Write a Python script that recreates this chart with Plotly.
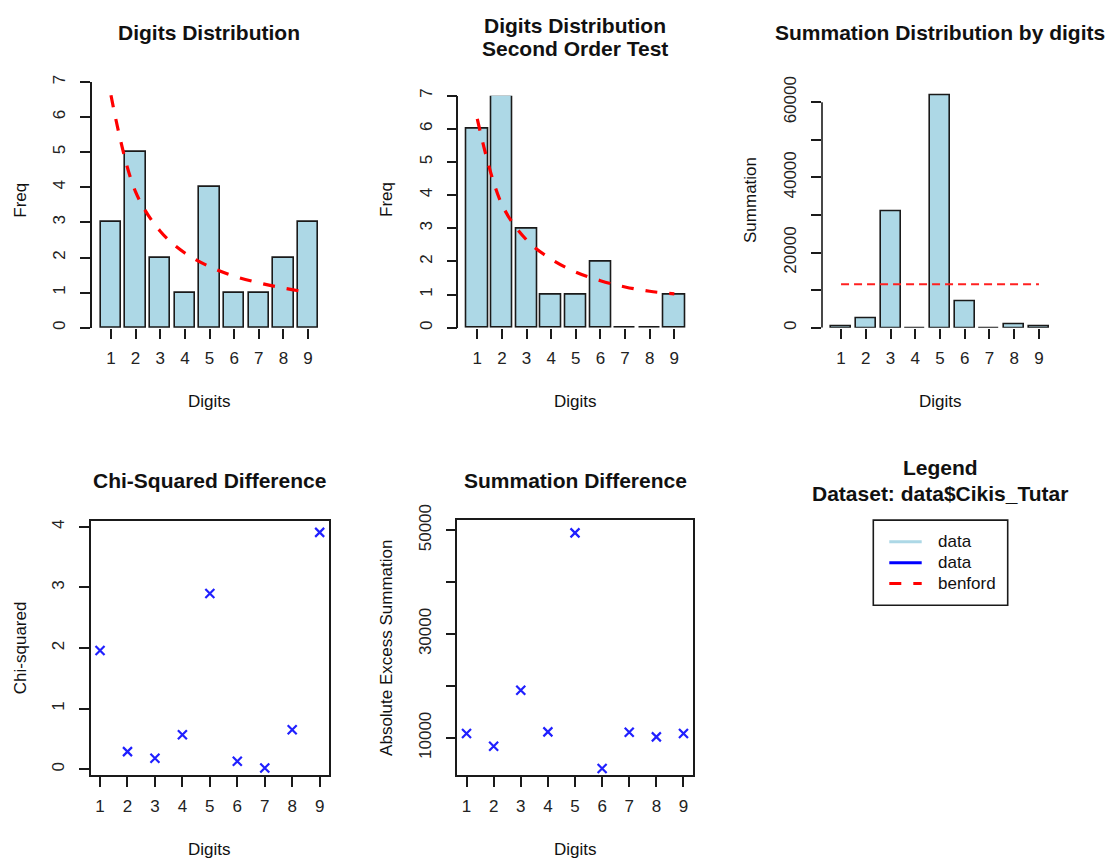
import plotly.graph_objects as go

# ---------------- data ----------------
digits = [1, 2, 3, 4, 5, 6, 7, 8, 9]
freq_first = [3, 5, 2, 1, 4, 1, 1, 2, 3]
benford_first = [6.62, 3.87, 2.75, 2.13, 1.74, 1.47, 1.28, 1.13, 1.01]
freq_second = [6, 7, 3, 1, 1, 2, 0, 0, 1]
benford_second = [6.30, 3.72, 2.65, 2.07, 1.68, 1.42, 1.23, 1.10, 1.02]
summation = [300, 2660, 31050, 0, 61760, 7100, 0, 975, 300]
summation_benford = 11560
chi_squared = [1.96, 0.29, 0.18, 0.57, 2.90, 0.13, 0.02, 0.65, 3.91]
abs_excess = [10835, 8395, 19180, 11155, 49480, 4090, 11090, 10190, 10835]

freq_ticks = [0, 1, 2, 3, 4, 5, 6, 7]
sum_ticks = [0, 10000, 20000, 30000, 40000, 50000, 60000]
sum_ticktext = ["0", "", "20000", "", "40000", "", "60000"]
chi_ticks = [0, 1, 2, 3, 4]
exc_ticks = [10000, 20000, 30000, 40000, 50000]
exc_ticktext = ["10000", "", "30000", "", "50000"]

legend_labels = ["data", "data", "benford"]
legend_colors = ["#ADD8E6", "#0000FF", "#FF0000"]
legend_dash = ["solid", "solid", "12px,12px"]

W, H = 1112, 860
FONT = "Liberation Sans, Arial, sans-serif"
TICK = 17
BAR_FILL = "#ADD8E6"

# the captured picture maps page y to picture y as  y_pic = A * y_page + B
A, B = 0.9786, 16.1


def fx(px):
    return px / W


def fy(py):
    return 1 - ((py - B) / A) / H


fig = go.Figure()

# ---- bars ----
fig.add_trace(go.Bar(x=digits, y=freq_first, width=0.83, marker=dict(color=BAR_FILL, line=dict(color="#1a1a1a", width=1.6)),
                     xaxis="x", yaxis="y", showlegend=False))
fig.add_trace(go.Scatter(x=digits, y=benford_first, mode="lines", line=dict(color="#FF0000", width=3.2, dash="12px,12px", shape="spline"),
                         xaxis="x", yaxis="y", showlegend=False))

fig.add_trace(go.Bar(x=digits, y=freq_second, width=0.86, marker=dict(color=BAR_FILL, line=dict(color="#1a1a1a", width=1.6)),
                     xaxis="x2", yaxis="y2", showlegend=False))
fig.add_trace(go.Scatter(x=digits, y=benford_second, mode="lines", line=dict(color="#FF0000", width=3.2, dash="12px,12px", shape="spline"),
                         xaxis="x2", yaxis="y2", showlegend=False))

fig.add_trace(go.Bar(x=digits, y=summation, width=0.81, marker=dict(color=BAR_FILL, line=dict(color="#1a1a1a", width=1.6)),
                     xaxis="x3", yaxis="y3", showlegend=False))
fig.add_trace(go.Scatter(x=[digits[0], digits[-1]], y=[summation_benford, summation_benford], mode="lines",
                         line=dict(color="#FF2020", width=2, dash="8px,5px"),
                         xaxis="x3", yaxis="y3", showlegend=False))

# ---- scatter ----
mk = dict(symbol="x-thin-open", size=9, color="#2020FF", line=dict(color="#2020FF", width=2.2))
fig.add_trace(go.Scatter(x=digits, y=chi_squared, mode="markers", marker=mk, xaxis="x4", yaxis="y4", showlegend=False))
fig.add_trace(go.Scatter(x=digits, y=abs_excess, mode="markers", marker=mk, xaxis="x5", yaxis="y5", showlegend=False))


def xax(dom, rng, anchor, box=False):
    return dict(domain=[fx(dom[0]), fx(dom[1])], range=rng, anchor=anchor, tickmode="array", tickvals=digits,
                ticktext=[str(d) for d in digits], ticks="outside", ticklen=10, tickwidth=1.6, tickcolor="#1a1a1a",
                showline=box, mirror=box, linecolor="#1a1a1a", linewidth=1.6, showgrid=False, zeroline=False,
                tickfont=dict(family=FONT, size=TICK, color="#222"), ticklabelstandoff=5, fixedrange=True)


def yax(dom, rng, anchor, tickvals, ticktext=None, line=True, box=False):
    return dict(domain=[fy(dom[1]), fy(dom[0])], range=rng, anchor=anchor, tickmode="array", tickvals=tickvals,
                ticktext=ticktext if ticktext is not None else [str(v) for v in tickvals],
                ticks="outside", ticklen=10, tickwidth=1.6, tickcolor="#1a1a1a", tickangle=-90,
                showline=line, mirror=box, linecolor="#1a1a1a", linewidth=1.6, showgrid=False, zeroline=False,
                tickfont=dict(family=FONT, size=TICK, color="#222"), ticklabelstandoff=8, fixedrange=True)


bar_rng = [0.23, 9.77]
pt_rng = [0.66, 9.34]

fig.update_layout(
    xaxis=xax((92, 327), bar_rng, "y"),
    yaxis=yax((82, 327.7), [0, 7], "x", freq_ticks),
    xaxis2=xax((458.3, 693.3), bar_rng, "y2"),
    yaxis2=yax((95.7, 327.7), [0, 7], "x2", freq_ticks),
    xaxis3=xax((822, 1058), bar_rng, "y3"),
    yaxis3=yax((87.3, 327.7), [0, 64000], "x3", sum_ticks, sum_ticktext, line=False),
    xaxis4=xax((90.7, 329), pt_rng, "y4", box=True),
    yaxis4=yax((520.7, 775), [-0.1, 4.1], "x4", chi_ticks, box=True),
    xaxis5=xax((457.3, 692.7), pt_rng, "y5", box=True),
    yaxis5=yax((520.3, 775), [2800, 51870], "x5", exc_ticks, exc_ticktext, box=True),
)

# y-axis line of the summation panel spans only the tick range
fig.add_shape(type="line", xref="x3 domain", yref="y3", x0=0, x1=0, y0=sum_ticks[0], y1=sum_ticks[-1],
              line=dict(color="#1a1a1a", width=1.6))

ann = []


def text(px, py, s, size=TICK, bold=False, angle=0, xanchor="center", color="#111"):
    ann.append(dict(x=fx(px), y=fy(py), xref="paper", yref="paper", text=("<b>%s</b>" % s) if bold else s,
                    showarrow=False, textangle=angle, xanchor=xanchor, yanchor="middle",
                    font=dict(family=FONT, size=size, color=color)))


TS = 21
# titles
text(209, 33, "Digits Distribution", TS, True)
text(575, 25.5, "Digits Distribution", TS, True)
text(575, 49, "Second Order Test", TS, True)
text(940, 33, "Summation Distribution by digits", TS, True)
text(209.5, 480.7, "Chi-Squared Difference", TS, True)
text(575, 480.7, "Summation Difference", TS, True)
text(940, 467.3, "Legend", TS, True)
text(940, 493.3, "Dataset: data$Cikis_Tutar", TS, True)

# axis titles
text(209, 401.7, "Digits")
text(575.8, 401.7, "Digits")
text(940, 401.7, "Digits")
text(209.5, 849.3, "Digits")
text(575, 849.3, "Digits")
text(20.7, 200, "Freq", angle=-90)
text(387, 200, "Freq", angle=-90)
text(751, 200, "Summation", angle=-90)
text(20, 648, "Chi-squared", angle=-90)
text(386.7, 648, "Absolute Excess Summation", angle=-90)

# legend box
fig.add_shape(type="rect", xref="paper", yref="paper", x0=fx(873.3), x1=fx(1007.7), y0=fy(605), y1=fy(520),
              line=dict(color="#1a1a1a", width=1.6), fillcolor="rgba(0,0,0,0)")
rows = [541.7, 562.7, 583.3]
for lab, col, dsh, ry in zip(legend_labels, legend_colors, legend_dash, rows):
    fig.add_shape(type="line", xref="paper", yref="paper", x0=fx(889.3), x1=fx(921.7), y0=fy(ry), y1=fy(ry),
                  line=dict(color=col, width=3, dash=dsh))
    text(935.7, ry, lab, xanchor="left")

fig.update_layout(annotations=ann, width=W, height=H, margin=dict(l=0, r=0, t=0, b=0),
                  plot_bgcolor="white", paper_bgcolor="white", bargap=0, showlegend=False)

fig.write_html("out.html", config={"displayModeBar": False},
               post_script="document.body.style.margin='0';document.body.style.overflow='hidden';"
                           "var d=document.getElementById('{plot_id}');d.style.position='fixed';d.style.top='0px';d.style.left='0px';")
